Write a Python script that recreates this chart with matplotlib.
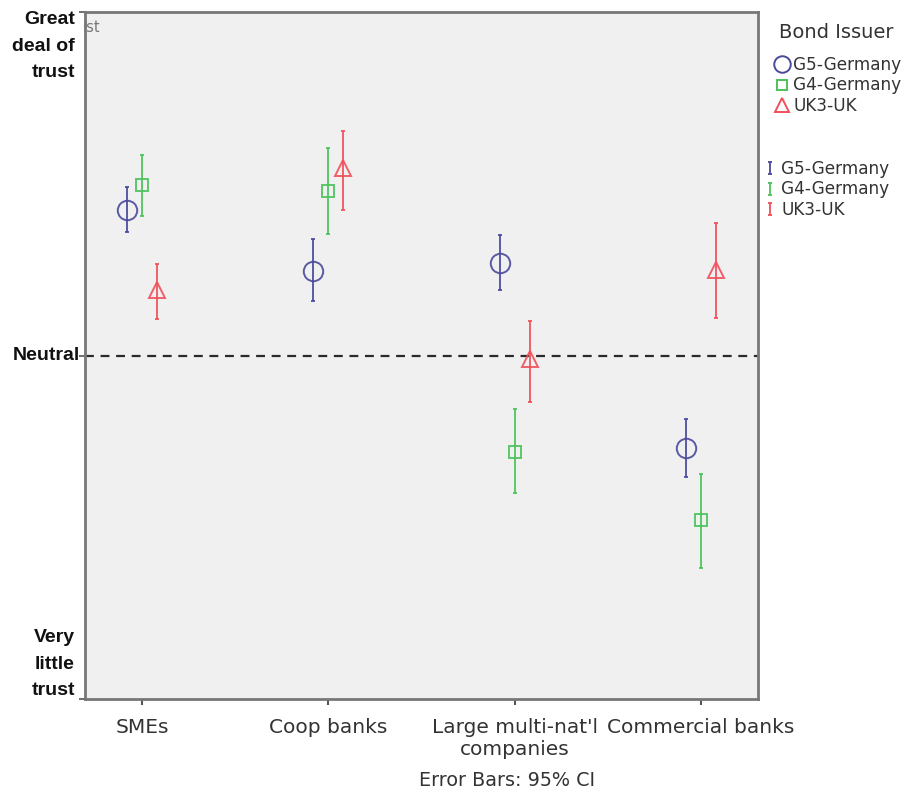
import numpy as np
import matplotlib
matplotlib.use("Agg")
import matplotlib.pyplot as plt
from matplotlib.lines import Line2D
from matplotlib.path import Path

# trust ratings: 1 = very little trust, 3 = neutral, 5 = great deal of trust
categories = ["SMEs", "Coop banks", "Large multi-nat'l\ncompanies", "Commercial banks"]
issuers = ["G5-Germany", "G4-Germany", "UK3-UK"]

g5_mean = [3.85, 3.49, 3.54, 2.46]
g5_lo = [3.72, 3.32, 3.38, 2.29]
g5_hi = [3.98, 3.68, 3.70, 2.63]

g4_mean = [3.99, 3.96, 2.44, 2.04]
g4_lo = [3.81, 3.71, 2.20, 1.76]
g4_hi = [4.17, 4.21, 2.69, 2.31]

uk3_mean = [3.38, 4.09, 2.98, 3.50]
uk3_lo = [3.21, 3.85, 2.73, 3.22]
uk3_hi = [3.53, 4.31, 3.20, 3.77]

colors = ["#4a4a9c", "#4cc25a", "#f0505a"]
markers = ["o", "s", "^"]
msizes = [14, 8.5, 11.5]
offsets = [-0.08, 0.0, 0.08]

fig = plt.figure(figsize=(9.05, 7.94), dpi=100)
ax = fig.add_axes([85 / 905, 1 - 699 / 794, (758 - 85) / 905, (699 - 12) / 794])
ax.set_facecolor("#f0f0f0")

x = np.arange(1, len(categories) + 1)
series = [(g5_mean, g5_lo, g5_hi), (g4_mean, g4_lo, g4_hi), (uk3_mean, uk3_lo, uk3_hi)]
for (mean, lo, hi), c, m, ms, dx in zip(series, colors, markers, msizes, offsets):
    mean, lo, hi = np.array(mean), np.array(lo), np.array(hi)
    ax.errorbar(x + dx, mean, yerr=[mean - lo, hi - mean], fmt=m, ms=ms,
                mfc="none", mec=c, mew=1.4, ecolor=c, elinewidth=1.4,
                capsize=1.5, capthick=2.5, alpha=0.9, zorder=3)

ax.axhline(3, color="#2a2a2a", lw=1.6, ls=(0, (4, 3)), zorder=2)

ax.set_xlim(0.694, 4.306)
ax.set_ylim(1, 5)
ax.set_xticks(x)
ax.set_xticklabels(categories, fontsize=14.5, color="#333333", linespacing=1.2)
ax.tick_params(axis="x", length=4, width=1.5, color="#555555", pad=9.5)
ax.set_yticks([1, 3, 5])
ax.set_yticklabels([])
ax.tick_params(axis="y", length=4, width=1.2, color="#555555")
for s in ax.spines.values():
    s.set_color("#777777")
    s.set_linewidth(2)

ytr = ax.get_yaxis_transform()
lab = dict(fontsize=14, fontweight="bold", family="Liberation Sans",
           ha="right", linespacing=1.72, transform=ytr, color="#111111")
ax.text(-0.015, 5.005, "Great\ndeal of\ntrust", va="top", **lab)
ax.text(-0.007, 3, "Neutral", va="center", **lab)
ax.text(-0.015, 1.0, "Very\nlittle\ntrust", va="bottom", **lab)
ax.text(-0.004, 0.978, "ist", transform=ax.transAxes, fontsize=10.5,
        color="#777777", va="center", ha="left", zorder=2)

fig.text(507 / 905, 1 - 781 / 794, "Error Bars: 95% CI", fontsize=13.8,
         color="#333333", ha="center", va="center")

# marker legend
fig.text(836 / 905, 1 - 33 / 794, "Bond Issuer", fontsize=14,
         color="#333333", ha="center", va="center")
mk_handles = [Line2D([], [], ls="none", marker=m, ms=ms * 0.85, mfc="none",
                     mec=c, mew=1.4) for m, ms, c in zip(markers, msizes, colors)]
leg1 = fig.legend(mk_handles, issuers, loc="upper left",
                  bbox_to_anchor=(768 / 905, 1 - 49 / 794), frameon=False,
                  fontsize=12.2, handlelength=0.9,
                  handletextpad=0.2, labelspacing=0.16, borderaxespad=0)
for t in leg1.get_texts():
    t.set_color("#333333")

# error bar legend
ibar = Path([(-0.35, -1), (0.35, -1), (0, -1), (0, 1), (-0.35, 1), (0.35, 1)],
            [Path.MOVETO, Path.LINETO, Path.MOVETO, Path.LINETO, Path.MOVETO, Path.LINETO])
eb_handles = [Line2D([], [], ls="none", marker=ibar, ms=9, mec=c, mew=1.3)
              for c in colors]
leg2 = fig.legend(eb_handles, issuers, loc="upper left",
                  bbox_to_anchor=(756 / 905, 1 - 153 / 794), frameon=False,
                  fontsize=12.2, handlelength=0.9, handletextpad=0.2,
                  labelspacing=0.16, borderaxespad=0)
for t in leg2.get_texts():
    t.set_color("#333333")

fig.savefig("out.png", dpi=100)
